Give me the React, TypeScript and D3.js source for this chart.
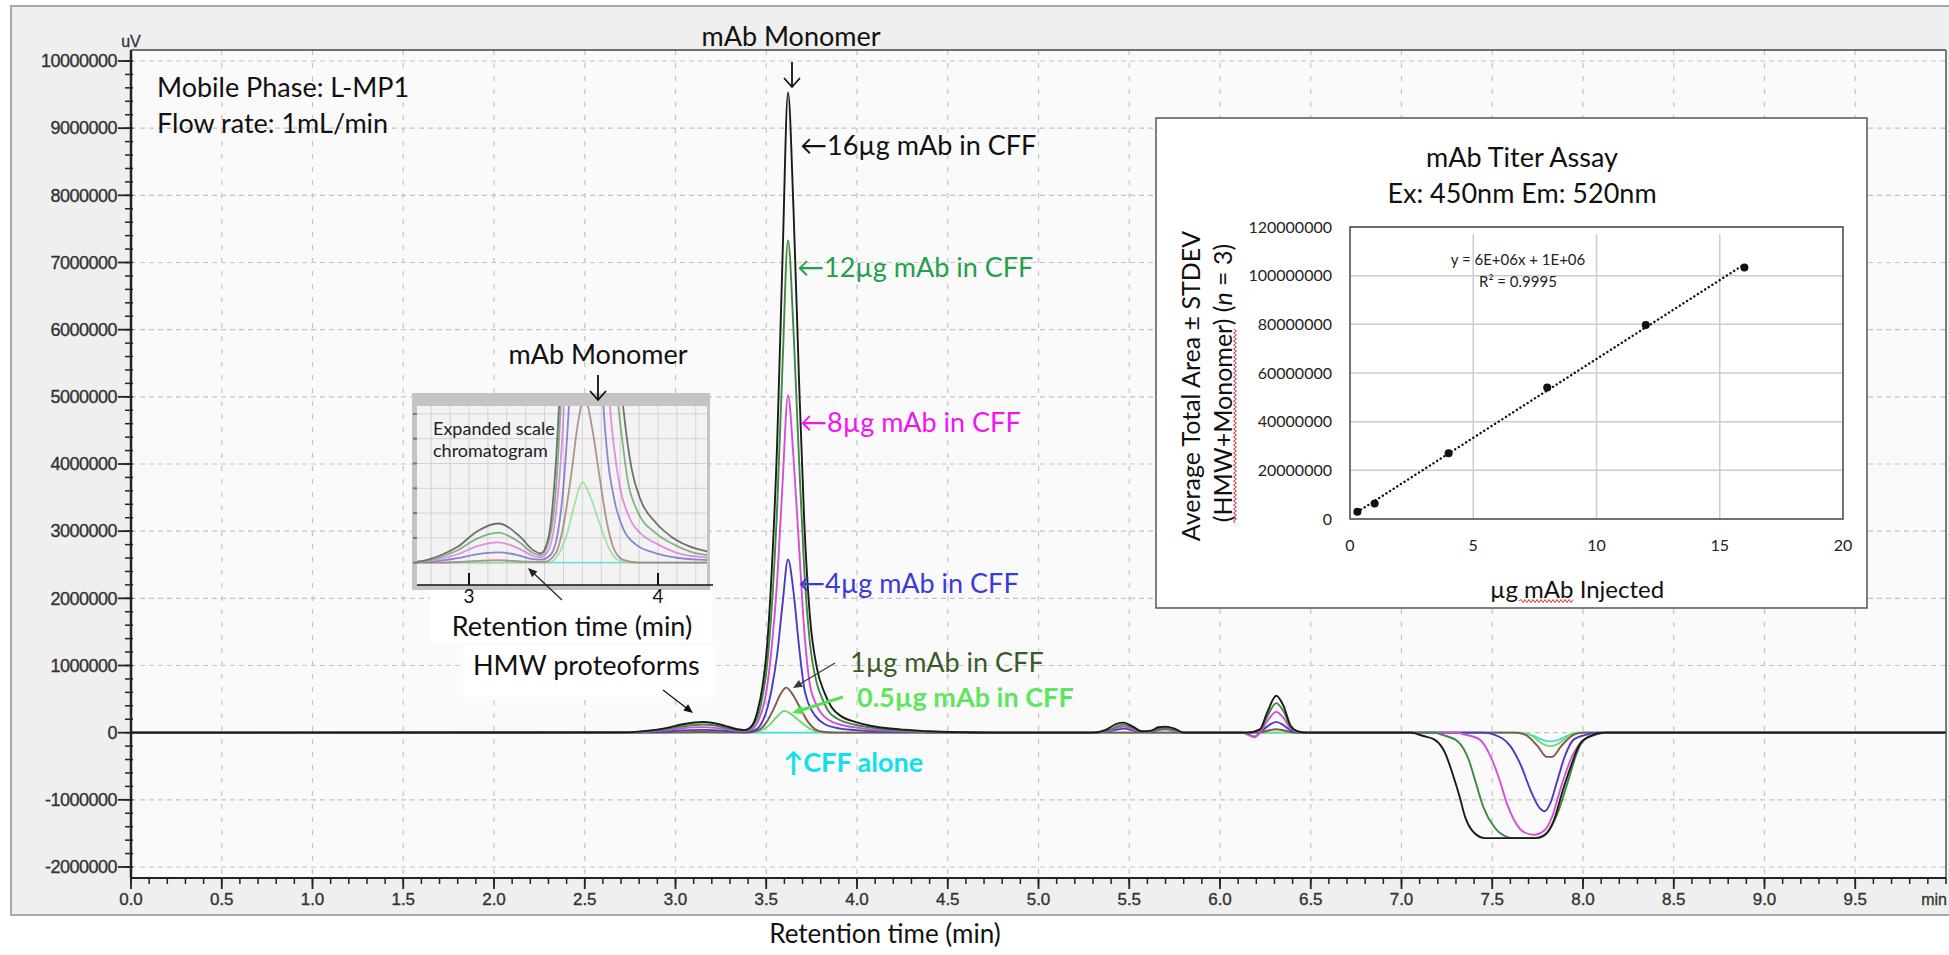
import React from "react";
import * as d3 from "d3";

// retention time (min), signal (x10^6 uV)
const mab16ug = [
  [0, 0], [2.72, 0.004], [2.85, 0.03], [2.94, 0.064], [3.04, 0.125], [3.155, 0.158], [3.27, 0.105], [3.34, 0.05],
  [3.38, 0.038], [3.42, 0.1], [3.45, 0.3], [3.48, 0.7], [3.5, 1.15], [3.53, 2.4], [3.56, 4.3], [3.59, 7.1], [3.62, 9.53],
  [3.65, 7.8], [3.68, 5.3], [3.71, 3.1], [3.74, 1.75], [3.78, 0.95], [3.82, 0.6], [3.86, 0.38], [3.91, 0.25], [3.99, 0.16],
  [4.08, 0.1], [4.17, 0.065], [4.26, 0.045], [4.4, 0.02], [4.6, 0.006], [4.8, 0],
  [5.3, 0], [5.37, 0.04], [5.43, 0.13], [5.47, 0.15], [5.52, 0.09], [5.57, 0.02], [5.62, 0.03], [5.66, 0.08], [5.7, 0.09],
  [5.75, 0.06], [5.8, 0], [6.15, 0], [6.22, 0.05], [6.26, 0.3], [6.31, 0.55], [6.35, 0.4], [6.39, 0.1], [6.43, 0.02], [6.48, 0],
  [7.05, 0], [7.12, -0.05], [7.18, -0.1], [7.24, -0.3], [7.28, -0.6], [7.32, -0.95], [7.35, -1.25], [7.4, -1.49], [7.46, -1.57],
  [7.74, -1.57], [7.79, -1.52], [7.84, -1.3], [7.89, -0.85], [7.94, -0.45], [7.98, -0.18], [8.04, -0.05], [8.12, 0], [10, 0],
];
const mab12ug = [
  [0, 0], [2.72, 0.003], [2.85, 0.023], [2.94, 0.05], [3.04, 0.096], [3.155, 0.121], [3.27, 0.08], [3.34, 0.038],
  [3.38, 0.03], [3.42, 0.08], [3.46, 0.3], [3.48, 0.55], [3.5, 0.9], [3.53, 1.85], [3.56, 3.35], [3.59, 5.5], [3.62, 7.33],
  [3.65, 6.0], [3.68, 4.1], [3.71, 2.4], [3.74, 1.35], [3.78, 0.72], [3.81, 0.5], [3.84, 0.33], [3.89, 0.21], [3.99, 0.118],
  [4.08, 0.075], [4.17, 0.045], [4.26, 0.03], [4.4, 0.012], [4.6, 0],
  [5.3, 0], [5.38, 0.03], [5.44, 0.1], [5.47, 0.12], [5.52, 0.07], [5.57, 0.015], [5.62, 0.02], [5.66, 0.06], [5.7, 0.07],
  [5.75, 0.045], [5.8, 0], [6.15, 0], [6.22, 0.04], [6.26, 0.24], [6.31, 0.44], [6.35, 0.32], [6.39, 0.08], [6.43, 0.015], [6.48, 0],
  [7.18, 0], [7.22, -0.03], [7.31, -0.13], [7.37, -0.4], [7.41, -0.75], [7.45, -1.1], [7.51, -1.4], [7.58, -1.55], [7.62, -1.57],
  [7.75, -1.57], [7.81, -1.47], [7.86, -1.2], [7.92, -0.7], [7.96, -0.35], [8.0, -0.12], [8.08, -0.02], [8.14, 0], [10, 0],
];
const mab8ug = [
  [0, 0], [2.72, 0.002], [2.85, 0.016], [2.94, 0.034], [3.04, 0.066], [3.155, 0.082], [3.27, 0.055], [3.34, 0.027],
  [3.38, 0.022], [3.42, 0.05], [3.46, 0.2], [3.5, 0.6], [3.53, 1.27], [3.56, 2.25], [3.59, 3.72], [3.62, 5.02], [3.65, 4.1],
  [3.68, 2.8], [3.71, 1.5], [3.74, 0.72], [3.77, 0.45], [3.8, 0.3], [3.85, 0.18], [3.92, 0.11], [3.99, 0.078], [4.1, 0.04],
  [4.26, 0.02], [4.5, 0],
  [5.3, 0], [5.38, 0.025], [5.44, 0.075], [5.47, 0.09], [5.52, 0.05], [5.57, 0.01], [5.62, 0.015], [5.66, 0.05], [5.7, 0.06],
  [5.75, 0.035], [5.8, 0], [6.12, 0], [6.16, -0.04], [6.19, -0.07], [6.22, 0], [6.26, 0.17], [6.31, 0.31], [6.35, 0.22],
  [6.39, 0.06], [6.43, 0.01], [6.48, 0],
  [7.3, 0], [7.35, -0.03], [7.43, -0.1], [7.49, -0.35], [7.54, -0.7], [7.58, -1.05], [7.62, -1.3], [7.68, -1.49], [7.73, -1.52],
  [7.79, -1.45], [7.83, -1.25], [7.88, -0.8], [7.94, -0.35], [8.0, -0.12], [8.06, -0.04], [8.12, 0], [10, 0],
];
const mab4ug = [
  [0, 0], [2.72, 0.001], [2.85, 0.008], [2.94, 0.018], [3.04, 0.034], [3.155, 0.042], [3.27, 0.028], [3.34, 0.014],
  [3.38, 0.012], [3.43, 0.03], [3.47, 0.12], [3.5, 0.31], [3.53, 0.65], [3.56, 1.16], [3.59, 1.92], [3.62, 2.58], [3.65, 2.1],
  [3.68, 1.3], [3.71, 0.65], [3.73, 0.45], [3.77, 0.25], [3.82, 0.13], [3.88, 0.075], [3.99, 0.038], [4.1, 0.02], [4.26, 0.01],
  [4.5, 0],
  [5.3, 0], [5.38, 0.02], [5.44, 0.05], [5.47, 0.06], [5.52, 0.035], [5.57, 0.01], [5.62, 0.012], [5.66, 0.04], [5.7, 0.05],
  [5.75, 0.03], [5.8, 0], [6.12, 0], [6.16, -0.03], [6.19, -0.06], [6.22, 0], [6.26, 0.09], [6.31, 0.16], [6.35, 0.11],
  [6.39, 0.03], [6.43, 0],
  [7.45, 0], [7.51, -0.03], [7.6, -0.2], [7.66, -0.5], [7.71, -0.85], [7.76, -1.12], [7.79, -1.17], [7.82, -1.05], [7.86, -0.7],
  [7.9, -0.35], [7.95, -0.1], [8.02, -0.03], [8.08, 0], [10, 0],
];
const mab1ug = [
  [0, 0], [2.85, 0], [3.0, 0.005], [3.155, 0.01], [3.3, 0.004], [3.4, 0.003], [3.46, 0.04], [3.5, 0.15], [3.54, 0.35],
  [3.58, 0.58], [3.61, 0.67], [3.65, 0.55], [3.69, 0.35], [3.73, 0.16], [3.77, 0.05], [3.82, 0.01], [3.9, 0],
  [6.2, 0], [6.31, 0.05], [6.42, 0],
  [7.62, 0], [7.68, -0.03], [7.75, -0.2], [7.8, -0.36], [7.83, -0.36], [7.88, -0.2], [7.95, -0.03], [8.0, 0], [10, 0],
];
const mab05ug = [
  [0, 0], [3.42, 0], [3.47, 0.03], [3.52, 0.12], [3.56, 0.24], [3.6, 0.325], [3.64, 0.27], [3.69, 0.16], [3.74, 0.06],
  [3.79, 0.01], [3.85, 0], [7.65, 0], [7.72, -0.05], [7.78, -0.17], [7.82, -0.2], [7.86, -0.17], [7.92, -0.05], [7.97, 0], [10, 0],
];
const cffAlone = [
  [0, 0], [7.65, 0], [7.72, -0.04], [7.78, -0.11], [7.82, -0.13], [7.86, -0.11], [7.92, -0.04], [7.97, 0], [10, 0],
];

const xTicks = [0, 0.5, 1, 1.5, 2, 2.5, 3, 3.5, 4, 4.5, 5, 5.5, 6, 6.5, 7, 7.5, 8, 8.5, 9, 9.5];
const yTicks = [-2, -1, 0, 1, 2, 3, 4, 5, 6, 7, 8, 9, 10];
const yTickLabels = ["-2000000", "-1000000", "0", "1000000", "2000000", "3000000", "4000000", "5000000", "6000000", "7000000", "8000000", "9000000", "10000000"];

// titer assay inset
const titerUg = [0.3, 1, 4, 8, 12, 16];
const titerArea = [3.0e6, 6.4e6, 27.0e6, 54.0e6, 79.7e6, 103.4e6];
const titerYTicks = [0, 20000000, 40000000, 60000000, 80000000, 100000000, 120000000];
const titerXTicks = [0, 5, 10, 15, 20];

const traces = [
  { data: cffAlone, color: "#3fdede" },
  { data: mab05ug, color: "#6cdc6c" },
  { data: mab1ug, color: "#86544c" },
  { data: mab4ug, color: "#4a3cc0" },
  { data: mab8ug, color: "#d450d4" },
  { data: mab12ug, color: "#3f8a3f" },
  { data: mab16ug, color: "#1a1a1a" },
];

const CAL = "Lato, 'DejaVu Sans', sans-serif";
const ARIAL = "'Liberation Sans', Arial, sans-serif";

const Arrow = ({ x1, y1, x2, y2, color, w = 1.2, head = 9 }) => {
  const a = Math.atan2(y2 - y1, x2 - x1);
  const p1 = [x2 - head * Math.cos(a - 0.4), y2 - head * Math.sin(a - 0.4)];
  const p2 = [x2 - head * Math.cos(a + 0.4), y2 - head * Math.sin(a + 0.4)];
  return (
    <g>
      <line x1={x1} y1={y1} x2={x2 - (head * 0.7) * Math.cos(a)} y2={y2 - (head * 0.7) * Math.sin(a)} stroke={color} strokeWidth={w} />
      <path d={`M${x2},${y2}L${p1[0]},${p1[1]}L${p2[0]},${p2[1]}Z`} fill={color} />
    </g>
  );
};

const DownArrow = ({ cx, y1, y2 }) => (
  <path d={`M${cx},${y1}V${y2}M${cx - 8},${y2 - 9}L${cx},${y2}L${cx + 8},${y2 - 9}`} fill="none" stroke="#111" strokeWidth={1.8} />
);

const wavy = (x0, x1, yy) => {
  let d = `M${x0},${yy}`;
  let up = true;
  for (let xx = x0 + 2; xx <= x1; xx += 2) {
    d += `L${xx},${yy + (up ? -1.5 : 1.5)}`;
    up = !up;
  }
  return d;
};

export default function App() {
  const x = d3.scaleLinear().domain([0, 10]).range([131, 1946]);
  const y = d3.scaleLinear().domain([-2, 10]).range([867, 61]);
  const line = d3.line().x((d) => x(d[0])).y((d) => y(d[1])).curve(d3.curveMonotoneX);

  // expanded scale inset (same data)
  const ix = d3.scaleLinear().domain([3, 4]).range([469, 658]);
  const iy = d3.scaleLinear().domain([0, 0.6]).range([562.7, 413.9]);
  const iline = d3.line().x((d) => ix(d[0])).y((d) => iy(d[1])).curve(d3.curveMonotoneX);

  // titer
  const tx = d3.scaleLinear().domain([0, 20]).range([1350, 1843]);
  const ty = d3.scaleLinear().domain([0, 120e6]).range([519, 227]);
  const mx = d3.mean(titerUg);
  const my = d3.mean(titerArea);
  const slope = d3.sum(titerUg, (v, i) => (v - mx) * (titerArea[i] - my)) / d3.sum(titerUg, (v) => (v - mx) ** 2);
  const icpt = my - slope * mx;
  const xMin = d3.min(titerUg);
  const xMax = d3.max(titerUg);

  const yMinor = d3.range(-2, 10.01, 0.2);
  const xMinor = d3.range(0, 10.001, 0.1);

  return (
    <svg width={1949} height={955} style={{ position: "absolute", left: 0, top: 0, display: "block" }}>
      <defs>
        <clipPath id="plotClip"><rect x={131} y={50} width={1815} height={828} /></clipPath>
        <clipPath id="insetClip"><rect x={417} y={406} width={290} height={179} /></clipPath>
      </defs>
      <rect x={0} y={0} width={1949} height={955} fill="#fff" />
      <rect x={11} y={6} width={1960} height={909} fill="#efefef" stroke="#a8a8a8" strokeWidth={2} />
      <rect x={131} y={50} width={1815} height={828} fill="#fafafa" />

      {/* grid */}
      {yTicks.map((t) => (
        <line key={"gy" + t} x1={131} x2={1946} y1={y(t)} y2={y(t)} stroke="#c4c4c4" strokeWidth={1.2} strokeDasharray="5,4" />
      ))}
      {xTicks.filter((t) => t > 0).map((t) => (
        <line key={"gx" + t} x1={x(t)} x2={x(t)} y1={50} y2={878} stroke="#c4c4c4" strokeWidth={1.2} strokeDasharray="5,8" />
      ))}

      {/* traces */}
      <g clipPath="url(#plotClip)">
        {traces.map((s, i) => (
          <path key={i} d={line(s.data)} fill="none" stroke={s.color} strokeWidth={1.9} strokeLinejoin="round" />
        ))}
      </g>

      {/* frame & axes */}
      <line x1={131} x2={1946} y1={50} y2={50} stroke="#444" strokeWidth={1.5} />
      <line x1={1946} x2={1946} y1={50} y2={878} stroke="#555" strokeWidth={1.5} />
      <line x1={131} x2={1946} y1={878} y2={878} stroke="#222" strokeWidth={2} />
      <line x1={131} x2={131} y1={50} y2={878} stroke="#222" strokeWidth={2.5} />
      {yMinor.map((t, i) => (
        <line key={"ym" + i} x1={125} x2={133} y1={y(t)} y2={y(t)} stroke="#222" strokeWidth={1.5} />
      ))}
      {yTicks.map((t, i) => (
        <g key={"yt" + t}>
          <line x1={118} x2={131} y1={y(t)} y2={y(t)} stroke="#222" strokeWidth={1.8} />
          <text x={117} y={y(t)} dy="0.35em" textAnchor="end" fontFamily={ARIAL} fontSize={18} fill="#333" stroke="#333" strokeWidth={0.35} letterSpacing={-0.5}>
            {yTickLabels[i]}
          </text>
        </g>
      ))}
      <text x={131} y={47} textAnchor="middle" fontFamily={ARIAL} fontSize={16} fill="#333" stroke="#333" strokeWidth={0.3}>uV</text>
      {xMinor.map((t, i) => (
        <line key={"xm" + i} x1={x(t)} x2={x(t)} y1={878} y2={884} stroke="#222" strokeWidth={1.5} />
      ))}
      {xTicks.map((t) => (
        <g key={"xt" + t}>
          <line x1={x(t)} x2={x(t)} y1={878} y2={889} stroke="#222" strokeWidth={1.8} />
          <text x={x(t)} y={905} textAnchor="middle" fontFamily={ARIAL} fontSize={17} fill="#333" stroke="#333" strokeWidth={0.35}>{t.toFixed(1)}</text>
        </g>
      ))}
      <text x={1947} y={905} textAnchor="end" fontFamily={ARIAL} fontSize={16} fill="#333" stroke="#333" strokeWidth={0.3}>min</text>
      <text x={885} y={943} textAnchor="middle" fontFamily={CAL} fontSize={26} fill="#111">Retention time (min)</text>

      {/* text annotations */}
      <text x={157} y={97} fontFamily={CAL} fontSize={27} fill="#111">Mobile Phase: L-MP1</text>
      <text x={157} y={133} fontFamily={CAL} fontSize={27} fill="#111">Flow rate: 1mL/min</text>
      <text x={791} y={46} textAnchor="middle" fontFamily={CAL} fontSize={27} fill="#111">mAb Monomer</text>
      <DownArrow cx={792} y1={62} y2={87} />
      <text x={800} y={155} fontFamily={CAL} fontSize={27} fill="#111">←16µg mAb in CFF</text>
      <text x={797} y={277} fontFamily={CAL} fontSize={27} fill="#23a04a">←12µg mAb in CFF</text>
      <text x={800} y={432} fontFamily={CAL} fontSize={27} fill="#f014f0">←8µg mAb in CFF</text>
      <text x={798} y={593} fontFamily={CAL} fontSize={27} fill="#3a3ad8">←4µg mAb in CFF</text>
      <text x={850} y={672} fontFamily={CAL} fontSize={27} fill="#3a5a28">1µg mAb in CFF</text>
      <Arrow x1={835} y1={663} x2={793} y2={688} color="#2f3f2a" w={1.2} head={10} />
      <text x={857} y={707} fontFamily={CAL} fontSize={27} fontWeight="bold" fill="#5ee65e">0.5µg mAb in CFF</text>
      <Arrow x1={843} y1={697} x2={792} y2={713} color="#55e055" w={3} head={12} />
      <text x={783} y={772} fontFamily={CAL} fontSize={27} fontWeight="bold" fill="#10e0ee">↑CFF alone</text>

      {/* expanded scale inset */}
      <rect x={412} y={393} width={298} height={197} fill="#c4c4c4" />
      <rect x={417} y={406} width={290} height={179} fill="#f3f3f3" />
      {d3.range(2.8, 4.25, 0.1).map((t, i) => (
        <line key={"ivx" + i} x1={ix(t)} x2={ix(t)} y1={406} y2={585} stroke="#d2d2d2" strokeWidth={1} />
      ))}
      {d3.range(0, 0.65, 0.1).map((v, i) => (
        <g key={"ivy" + i}>
          <line x1={417} x2={707} y1={iy(v)} y2={iy(v)} stroke="#d2d2d2" strokeWidth={1} />
          <rect x={413} y={iy(v) - 1} width={4} height={2} fill="#777" />
        </g>
      ))}
      <g clipPath="url(#insetClip)" opacity={0.6}>
        {traces.map((s, i) => (
          <path key={i} d={iline(s.data)} fill="none" stroke={s.color} strokeWidth={1.8} />
        ))}
      </g>
      <line x1={417} x2={713} y1={585} y2={585} stroke="#111" strokeWidth={1.5} />
      <rect x={430} y={590} width={282} height={52} fill="#fff" />
      {[3, 4].map((t) => (
        <g key={"it" + t}>
          <line x1={ix(t)} x2={ix(t)} y1={573} y2={585} stroke="#111" strokeWidth={2} />
          <text x={ix(t)} y={603} textAnchor="middle" fontFamily={CAL} fontSize={19} fill="#111">{t}</text>
        </g>
      ))}
      <text x={572} y={636} textAnchor="middle" fontFamily={CAL} fontSize={27} fill="#111">Retention time (min)</text>
      <text x={433} y={435} fontFamily={CAL} fontSize={18} fill="#222">Expanded scale</text>
      <text x={433} y={457} fontFamily={CAL} fontSize={18} fill="#222">chromatogram</text>
      <text x={598} y={364} textAnchor="middle" fontFamily={CAL} fontSize={27} fill="#111">mAb Monomer</text>
      <DownArrow cx={598} y1={375} y2={400} />
      <Arrow x1={562} y1={600} x2={528} y2={568} color="#222" w={1.2} head={10} />

      <rect x={463} y={645} width={252} height={52} fill="#fff" />
      <text x={473} y={675} fontFamily={CAL} fontSize={27} fill="#111">HMW proteoforms</text>
      <Arrow x1={663} y1={690} x2={693} y2={713} color="#111" w={1.2} head={10} />

      {/* titer assay inset */}
      <rect x={1156} y={118} width={711} height={490} fill="#fff" stroke="#555" strokeWidth={1.5} />
      <text x={1522} y={167} textAnchor="middle" fontFamily={CAL} fontSize={27} fill="#111">mAb Titer Assay</text>
      <text x={1522} y={203} textAnchor="middle" fontFamily={CAL} fontSize={27} fill="#111">Ex: 450nm Em: 520nm</text>
      {titerYTicks.filter((v) => v > 0).map((v) => (
        <line key={"tgy" + v} x1={1350} x2={1843} y1={ty(v)} y2={ty(v)} stroke="#cccccc" strokeWidth={1.5} />
      ))}
      {titerXTicks.filter((v) => v > 0 && v < 20).map((v) => (
        <line key={"tgx" + v} x1={tx(v)} x2={tx(v)} y1={ty(117e6)} y2={519} stroke="#cccccc" strokeWidth={1.5} />
      ))}
      <rect x={1350} y={227} width={493} height={292} fill="none" stroke="#444" strokeWidth={1.5} />
      {titerYTicks.map((v) => (
        <text key={"tyt" + v} x={1332} y={ty(v)} dy="0.35em" textAnchor="end" fontFamily={CAL} fontSize={16} fill="#222">{v}</text>
      ))}
      {titerXTicks.map((v) => (
        <text key={"txt" + v} x={tx(v)} y={551} textAnchor="middle" fontFamily={CAL} fontSize={16} fill="#222">{v}</text>
      ))}
      <line x1={tx(xMin)} y1={ty(slope * xMin + icpt)} x2={tx(xMax)} y2={ty(slope * xMax + icpt)} stroke="#111" strokeWidth={2.4} strokeDasharray="0.1,4.2" strokeLinecap="round" />
      {titerUg.map((v, i) => (
        <circle key={"tp" + i} cx={tx(v)} cy={ty(titerArea[i])} r={4} fill="#111" />
      ))}
      <text x={1518} y={265} textAnchor="middle" fontFamily={CAL} fontSize={15} fill="#222">y = 6E+06x + 1E+06</text>
      <text x={1518} y={287} textAnchor="middle" fontFamily={CAL} fontSize={15} fill="#222">R² = 0.9995</text>
      <text x={1577} y={598} textAnchor="middle" fontFamily={CAL} fontSize={24} fill="#111">µg mAb Injected</text>
      <path d={wavy(1519, 1573, 601)} fill="none" stroke="#e03030" strokeWidth={1} />
      <g transform="translate(1200,386) rotate(-90)">
        <text x={0} y={0} textAnchor="middle" fontFamily={CAL} fontSize={25} fill="#111">Average Total Area ± STDEV</text>
      </g>
      <g transform="translate(1232,383) rotate(-90)">
        <text x={0} y={0} textAnchor="middle" fontFamily={CAL} fontSize={25} fill="#111">
          (HMW+Monomer) (<tspan fontStyle="italic">n</tspan> = 3)
        </text>
        <path d={wavy(-140, 55, 3)} fill="none" stroke="#e03030" strokeWidth={1} />
      </g>
    </svg>
  );
}
